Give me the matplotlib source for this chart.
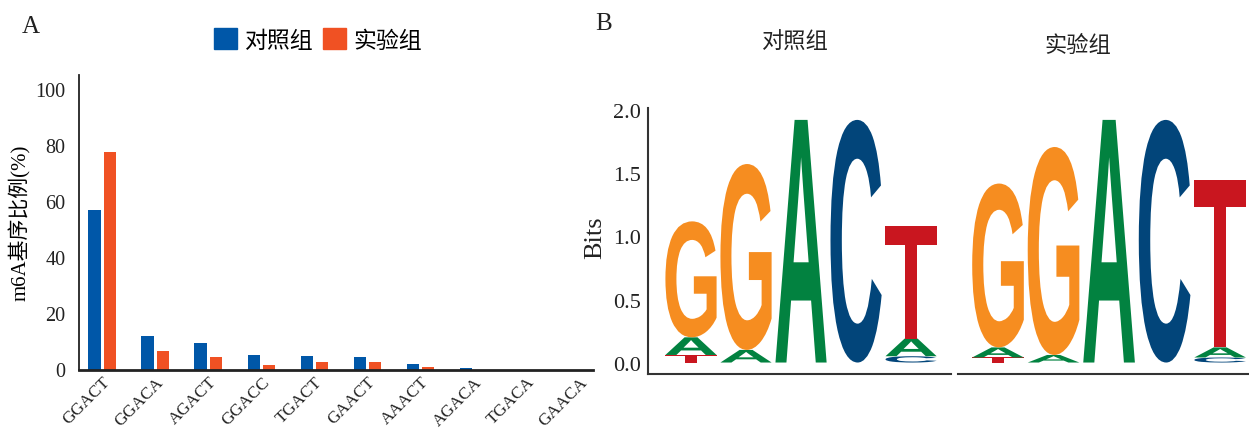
import numpy as np
import matplotlib
matplotlib.use('Agg')
import matplotlib.pyplot as plt
from matplotlib.patches import Patch, PathPatch
from matplotlib.textpath import TextPath
from matplotlib.font_manager import FontProperties
from matplotlib import transforms

plt.rcParams['font.family'] = ['Liberation Serif', 'Noto Sans CJK SC']

# --- A: m6A 基序比例 ---
motifs = ['GGACT', 'GGACA', 'AGACT', 'GGACC', 'TGACT',
          'GAACT', 'AAACT', 'AGACA', 'TGACA', 'GAACA']
control_pct = [57.0, 12.0, 9.3, 5.3, 4.9, 4.5, 1.9, 0.6, 0.0, 0.0]
treat_pct = [77.4, 6.6, 4.6, 1.6, 2.8, 2.6, 0.9, 0.0, 0.0, 0.0]
group_names = ['对照组', '实验组']

# --- B: 序列标识 (自下而上堆叠) ---
ctrl_letters = [['T', 'A', 'G'], ['A', 'G'], ['A'], ['C'], ['C', 'A', 'T']]
ctrl_bits = [[0.06, 0.14, 0.92], [0.10, 1.475], [1.925], [1.925], [0.05, 0.14, 0.89]]
treat_letters = [['T', 'A', 'G'], ['A', 'G'], ['A'], ['C'], ['C', 'A', 'T']]
treat_bits = [[0.04, 0.08, 1.30], [0.06, 1.65], [1.925], [1.925], [0.04, 0.08, 1.33]]

blue = '#0057A8'
orange = '#F05123'
base_colors = {'A': '#028240', 'C': '#02457A', 'G': '#F68D20', 'T': '#C9161F'}
logo_font = FontProperties(family='Liberation Sans', weight='bold')
cjk = 'Noto Sans CJK SC'

W, H = 1249, 431
fig = plt.figure(figsize=(W / 100, H / 100), dpi=100)


def px_axes(x0, y0, x1, y1):
    # пиксели (сверху вниз) -> координаты фигуры
    return fig.add_axes([x0 / W, 1 - y1 / H, (x1 - x0) / W, (y1 - y0) / H])


# ---------- панель A ----------
ax = px_axes(79.3, 76, 593, 370.5)
x = np.arange(len(motifs))
ax.bar(x - 0.145, control_pct, 0.23, color=blue, label=group_names[0])
ax.bar(x + 0.145, treat_pct, 0.23, color=orange, label=group_names[1])
ax.set_xlim(-0.43, 9.25)
ax.set_ylim(0, 105)
ax.set_yticks([0, 20, 40, 60, 80, 100])
ax.set_xticks(x)
ax.set_xticklabels(motifs, rotation=45, ha='right', va='top',
                   rotation_mode='anchor', fontsize=12.5)
off = transforms.ScaledTranslation(12 / 100, 0, fig.dpi_scale_trans)
for lab in ax.get_xticklabels():
    lab.set_transform(lab.get_transform() + off)
ax.tick_params(axis='both', length=0, colors='#222222')
ax.tick_params(axis='y', pad=10, labelsize=14.5)
ax.tick_params(axis='x', pad=3)
for s in ['top', 'right']:
    ax.spines[s].set_visible(False)
ax.spines['left'].set_linewidth(1.3)
ax.spines['bottom'].set_linewidth(2.0)
ax.spines['left'].set_color('#222222')
ax.spines['bottom'].set_color('#222222')
ax.set_ylabel('m6A基序比例(%)', fontsize=15, labelpad=3)

handles = [Patch(color=blue), Patch(color=orange)]
fig.legend(handles, group_names, loc='center', bbox_to_anchor=(318 / W, 1 - 41 / H),
           ncol=2, frameon=False, handlelength=1.0, handleheight=1.0,
           handletextpad=0.35, columnspacing=0.4, prop={'family': cjk, 'size': 16.5})

fig.text(22 / W, 1 - 33 / H, 'A', fontsize=18, color='#222222')
fig.text(595 / W, 1 - 30 / H, 'B', fontsize=18, color='#222222')


# ---------- панель B ----------
def draw_letter(axl, ch, x0, y0, w, h):
    tp = TextPath((0, 0), ch, size=1, prop=logo_font)
    bb = tp.get_extents()
    t = (transforms.Affine2D().translate(-bb.x0, -bb.y0)
         .scale(w / bb.width, h / bb.height).translate(x0, y0))
    axl.add_patch(PathPatch(t.transform_path(tp), facecolor=base_colors[ch], lw=0))


def draw_logo(axl, letters, bits):
    for i, (col_l, col_b) in enumerate(zip(letters, bits)):
        y = 0.0
        for ch, h in zip(col_l, col_b):
            draw_letter(axl, ch, i - 0.465, y, 0.93, h)
            y += h


ymin, ymax = -0.091, 2.017
axl = px_axes(648.3, 109.3, 950.7, 375)
draw_logo(axl, ctrl_letters, ctrl_bits)
axl.set_xlim(-0.776, 4.72)
axl.set_ylim(ymin, ymax)
axl.set_xticks([])
axl.set_yticks([0, 0.5, 1.0, 1.5, 2.0])
axl.set_yticklabels(['0.0', '0.5', '1.0', '1.5', '2.0'])
axl.tick_params(axis='y', length=0, pad=5, labelsize=16, colors='#222222')
for s in ['top', 'right']:
    axl.spines[s].set_visible(False)
for s in ['left', 'bottom']:
    axl.spines[s].set_linewidth(1.5)
    axl.spines[s].set_color('#333333')

axr = px_axes(957.7, 109.3, 1249, 375)
draw_logo(axr, treat_letters, treat_bits)
axr.set_xlim(-0.726, 4.52)
axr.set_ylim(ymin, ymax)
axr.set_xticks([])
axr.set_yticks([])
for s in ['top', 'right', 'left']:
    axr.spines[s].set_visible(False)
axr.spines['bottom'].set_linewidth(1.5)
axr.spines['bottom'].set_color('#333333')

fig.text(595 / W, 1 - 238 / H, 'Bits', rotation=90, fontsize=19,
         ha='center', va='center', color='#222222')
fig.text(795 / W, 1 - 42 / H, group_names[0], family=cjk, fontsize=16,
         ha='center', va='center', color='#222222')
fig.text(1078 / W, 1 - 45 / H, group_names[1], family=cjk, fontsize=16,
         ha='center', va='center', color='#222222')

fig.savefig('out.png', dpi=100)
